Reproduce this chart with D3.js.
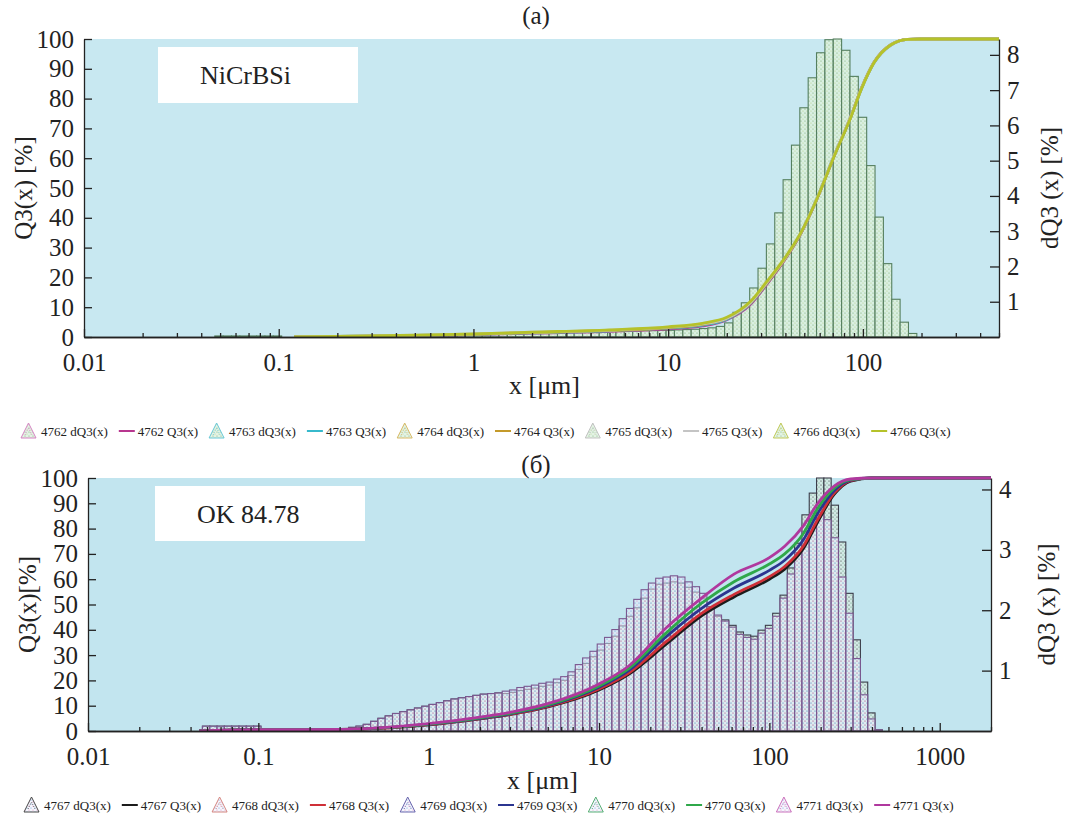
<!DOCTYPE html>
<html>
<head>
<meta charset="utf-8">
<script src="https://cdn.jsdelivr.net/npm/d3@7/dist/d3.min.js"></script>
<style>
  body { margin: 0; background: #fff; }
  svg text { font-family: "Liberation Serif", "Times New Roman", serif; fill: #222; }
</style>
</head>
<body>
<svg id="chart" width="1066" height="818"></svg>
<script>
// analyser size classes: geometric grid anchored at 63.8 um
const binsPerDecade = 23.3;
const refEdge = 63.8;

// (a) NiCrBSi, dQ3 per class, first class index -73
const dq3AStart = -73;
const dq3A = [
  0.03, 0.03, 0.03, 0.03, 0.03, 0.03, 0.03, 0.03,
  0, 0, 0, 0, 0, 0, 0, 0, 0, 0, 0,
  0.02, 0.02, 0.03, 0.03, 0.04, 0.04, 0.05, 0.05, 0.06, 0.06, 0.07, 0.07,
  0.08, 0.08, 0.09, 0.09, 0.10, 0.10, 0.11, 0.11, 0.12, 0.12, 0.13, 0.13, 0.14, 0.14, 0.15,
  0.15, 0.16, 0.16, 0.17, 0.17, 0.18, 0.18, 0.19, 0.19, 0.20, 0.21, 0.22, 0.24, 0.26,
  0.30, 0.40, 0.70, 0.97, 1.39, 1.95, 2.64, 3.52, 4.46, 5.44, 6.50, 7.35, 8.06,
  8.43, 8.45, 8.13, 7.39, 6.23, 4.86, 3.40, 2.08, 1.07, 0.42, 0.10
];

// (a) cumulative Q3 curves
const q3AX = [0.12, 0.2, 0.5, 1, 2, 5, 10, 15, 20, 26.5, 32, 39, 48, 58.6, 71, 87, 98, 114, 139, 170, 200, 500];
const q3A4762 = [0, 0.1, 0.4, 0.8, 1.3, 1.9, 2.7, 3.7, 5.8, 11.0, 17.6, 25.2, 34.7, 46.9, 60.6, 74.2, 83.2, 92.1, 98.0, 99.9, 100, 100];
const q3A4763 = [0, 0.2, 0.5, 0.9, 1.4, 2.1, 3.0, 4.0, 6.0, 11.3, 17.9, 25.5, 34.9, 47.1, 60.7, 74.1, 83.1, 92.0, 98.0, 99.9, 100, 100];
const q3A4764 = [0, 0.2, 0.5, 0.9, 1.5, 2.2, 3.1, 4.2, 6.2, 11.5, 18.0, 25.4, 34.8, 47.0, 60.6, 74.2, 83.3, 92.2, 98.1, 99.9, 100, 100];
const q3A4765 = [0, 0.2, 0.6, 1.0, 1.6, 2.3, 3.3, 4.4, 6.3, 11.6, 18.2, 25.6, 35.0, 47.2, 60.8, 74.3, 83.2, 92.1, 98.0, 99.9, 100, 100];
const q3A4766 = [0, 0.2, 0.6, 1.0, 1.6, 2.4, 3.4, 4.6, 6.6, 12.0, 18.5, 25.8, 35.0, 47.0, 60.5, 74.0, 83.0, 92.0, 98.0, 99.9, 100, 100];

// (б) OK 84.78, dQ3 per class, first class index -73
const dq3BStart = -73;
const dq3B4767 = [
  0.08, 0.08, 0.08, 0.08, 0.08, 0.08, 0.08, 0.08,
  0, 0, 0, 0, 0, 0, 0, 0, 0, 0,
  0.02, 0.04, 0.06, 0.08, 0.11, 0.16, 0.21, 0.25, 0.29, 0.32, 0.35, 0.38, 0.41, 0.44, 0.47, 0.50,
  0.53, 0.55, 0.57, 0.59, 0.61, 0.62, 0.63,
  0.62, 0.64, 0.67, 0.69, 0.71, 0.74, 0.76, 0.80, 0.84, 0.92, 1.02, 1.12, 1.23, 1.34, 1.45,
  1.57, 1.74, 1.90, 2.04, 2.20, 2.35, 2.43, 2.45, 2.47, 2.45, 2.38, 2.30, 2.20, 2.02, 1.90,
  1.84, 1.75, 1.64, 1.59, 1.57, 1.67, 1.75, 1.95, 2.25, 2.70, 3.11, 3.58, 3.94, 4.19, 4.19,
  3.74, 3.13, 2.28, 1.51, 0.81, 0.30, 0.02
];
const dq3B4771 = [
  0.08, 0.08, 0.08, 0.08, 0.08, 0.08, 0.08, 0.08,
  0, 0, 0, 0, 0, 0, 0, 0, 0, 0,
  0.02, 0.04, 0.06, 0.08, 0.11, 0.16, 0.21, 0.25, 0.29, 0.32, 0.35, 0.38, 0.41, 0.44, 0.47, 0.50,
  0.53, 0.55, 0.57, 0.59, 0.61, 0.62, 0.63,
  0.66, 0.68, 0.72, 0.74, 0.76, 0.79, 0.81, 0.86, 0.90, 0.98, 1.10, 1.21, 1.32, 1.44, 1.55,
  1.68, 1.86, 2.03, 2.18, 2.34, 2.45, 2.53, 2.55, 2.57, 2.55, 2.47, 2.39, 2.28, 2.06, 1.92,
  1.82, 1.72, 1.60, 1.55, 1.52, 1.62, 1.70, 1.90, 2.20, 2.60, 2.95, 3.30, 3.50, 3.58, 3.50,
  3.20, 2.55, 1.95, 1.20, 0.60, 0.20, 0.02
];

// (б) cumulative Q3 curves
const q3BX = [0.045, 0.1, 0.3, 0.5, 1, 2, 3, 5, 10, 15, 25, 40, 62, 100, 123, 158, 190, 240, 300, 400, 2000];
const q3B4767 = [0, 0.5, 0.6, 1.0, 2.4, 4.8, 6.5, 9.5, 16.2, 22.5, 34.5, 45.5, 53.0, 60.0, 64.0, 72.0, 82.0, 93.5, 98.8, 100, 100];
const q3B4768 = [0, 0.5, 0.6, 1.0, 2.5, 4.9, 6.6, 9.7, 16.6, 23.0, 35.5, 46.5, 54.0, 61.0, 65.0, 73.0, 83.0, 94.0, 99.0, 100, 100];
const q3B4769 = [0, 0.5, 0.6, 1.1, 2.6, 5.0, 6.8, 10.0, 17.3, 24.0, 37.5, 48.5, 56.5, 63.5, 67.5, 75.5, 85.5, 95.0, 99.2, 100, 100];
const q3B4770 = [0, 0.5, 0.6, 1.1, 2.7, 5.2, 7.0, 10.3, 17.8, 24.8, 39.0, 50.5, 59.0, 66.0, 70.0, 78.0, 87.5, 96.0, 99.4, 100, 100];
const q3B4771 = [0, 0.5, 0.6, 1.2, 2.9, 5.5, 7.4, 10.8, 18.6, 25.8, 41.0, 52.5, 62.0, 68.5, 73.0, 81.0, 89.5, 96.8, 99.6, 100, 100];

// axes
const xTicksA = [0.01, 0.1, 1, 10, 100];
const xTickLabelsA = ['0.01', '0.1', '1', '10', '100'];
const xTicksB = [0.01, 0.1, 1, 10, 100, 1000];
const xTickLabelsB = ['0.01', '0.1', '1', '10', '100', '1000'];
const q3Ticks = [0, 10, 20, 30, 40, 50, 60, 70, 80, 90, 100];
const dq3TicksA = [1, 2, 3, 4, 5, 6, 7, 8];
const dq3TicksB = [1, 2, 3, 4];

const legendA = [
  { name: '4762', tri: '#d277bd', line: '#b8368f' },
  { name: '4763', tri: '#58c3d3', line: '#37b9cc' },
  { name: '4764', tri: '#d6b458', line: '#c49a2a' },
  { name: '4765', tri: '#bdbdbd', line: '#c4c4c4' },
  { name: '4766', tri: '#bcc548', line: '#b5c22a' }
];
const legendB = [
  { name: '4767', tri: '#333333', line: '#1c1c1c' },
  { name: '4768', tri: '#d27a74', line: '#cf3038' },
  { name: '4769', tri: '#5a56a6', line: '#2b3590' },
  { name: '4770', tri: '#48a868', line: '#2fa84a' },
  { name: '4771', tri: '#c862b6', line: '#b0389e' }
];

const svg = d3.select('#chart');
const defs = svg.append('defs');

function edge(k) { return refEdge * Math.pow(10, k / binsPerDecade); }

function dotPattern(id, base, dots) {
  const p = defs.append('pattern').attr('id', id).
    attr('width', 4).attr('height', 4).attr('patternUnits', 'userSpaceOnUse');
  p.append('rect').attr('width', 4).attr('height', 4).attr('fill', base);
  dots.forEach(function(d) {
    p.append('circle').attr('cx', d[0]).attr('cy', d[1]).attr('r', 0.6).attr('fill', d[2]);
  });
}
dotPattern('fillA', 'rgba(220,240,222,0.85)', [[1, 1, '#78ad6e'], [3, 3, '#b4d28a']]);
dotPattern('fillB1', 'rgba(214,234,226,0.8)', [[1, 1, '#333333'], [3, 3, '#5f9a78']]);
dotPattern('fillB2', 'rgba(232,240,250,0.5)', [[1, 1, '#e07cc4'], [3, 3, '#6f8ee0']]);

function drawPanel(p) {
  const x = d3.scaleLog().domain(p.xDomain).range([p.left, p.right]);
  const y = d3.scaleLinear().domain([0, 100]).range([p.bottom, p.top]);
  const y2 = d3.scaleLinear().domain([0, p.y2Max]).range([p.bottom, p.top]);

  const g = svg.append('g');
  const clipId = 'clip' + p.id;
  defs.append('clipPath').attr('id', clipId).append('rect').
    attr('x', p.left).attr('y', p.top - 2).attr('width', p.right - p.left).attr('height', p.bottom - p.top + 2);

  g.append('rect').attr('x', p.left).attr('y', p.top).
    attr('width', p.right - p.left).attr('height', p.bottom - p.top).attr('fill', p.bg);

  const plot = g.append('g').attr('clip-path', 'url(#' + clipId + ')');

  // histograms
  p.hists.forEach(function(h) {
    const bars = h.values.map(function(v, i) { return { k: h.start + i, v: v }; }).filter(function(d) { return d.v > 0; });
    plot.append('g').selectAll('rect').data(bars).join('rect').
      attr('x', function(d) { return x(edge(d.k)); }).
      attr('width', function(d) { return x(edge(d.k + 1)) - x(edge(d.k)); }).
      attr('y', function(d) { return y2(d.v); }).
      attr('height', function(d) { return y2(0) - y2(d.v); }).
      attr('fill', h.fill).attr('stroke', h.stroke).attr('stroke-width', 1.1);
  });

  // cumulative curves
  const line = d3.line().x(function(d) { return x(d[0]); }).y(function(d) { return y(d[1]); }).curve(d3.curveMonotoneX);
  p.curves.forEach(function(c) {
    plot.append('path').datum(p.curveX.map(function(v, i) { return [v, c.values[i]]; })).
      attr('d', line).attr('fill', 'none').attr('stroke', c.color).attr('stroke-width', 2.8).
      attr('stroke-linejoin', 'round');
  });

  // axes
  const minor = x.ticks().filter(function(t) { return p.xTicks.indexOf(t) < 0; });
  g.append('g').attr('transform', 'translate(0,' + p.bottom + ')').
    call(d3.axisBottom(x).tickValues(minor).tickSize(-4).tickSizeOuter(0).tickFormat(''));
  g.append('g').attr('transform', 'translate(0,' + p.bottom + ')').
    call(d3.axisBottom(x).tickValues(p.xTicks).tickSize(-8).tickSizeOuter(0).tickPadding(16).
      tickFormat(function(d, i) { return p.xLabels[i]; }));
  g.append('g').attr('transform', 'translate(' + p.left + ',0)').
    call(d3.axisLeft(y).tickValues(q3Ticks).tickSize(-8).tickSizeOuter(0).tickPadding(10));
  g.append('g').attr('transform', 'translate(' + p.right + ',0)').
    call(d3.axisRight(y2).tickValues(p.y2Ticks).tickSize(-9).tickSizeOuter(0).tickPadding(8).tickFormat(d3.format('d')));

  g.selectAll('.tick text').attr('font-size', 25).attr('fill', '#222');
  g.selectAll('.domain, .tick line').attr('stroke', '#222').attr('stroke-width', 1.3);

  // titles
  g.append('text').attr('x', 536).attr('y', p.titleY).attr('dy', '0.32em').
    attr('text-anchor', 'middle').attr('font-size', 25).text(p.title);
  g.append('text').attr('x', (p.left + p.right) / 2 + 3).attr('y', p.xTitleY).attr('dy', '0.32em').
    attr('text-anchor', 'middle').attr('font-size', 26).text('x [\u03bcm]');
  g.append('text').attr('transform', 'translate(' + p.yTitleX + ',' + (p.top + p.bottom) / 2 + ') rotate(-90)').
    attr('dy', '0.32em').attr('text-anchor', 'middle').attr('font-size', 25).text(p.yTitle);
  g.append('text').attr('transform', 'translate(' + p.y2TitleX + ',' + (p.top + p.bottom) / 2 + ') rotate(-90)').
    attr('dy', '0.32em').attr('text-anchor', 'middle').attr('font-size', 25).text('dQ3 (x) [%]');

  // sample label
  g.append('rect').attr('x', p.box[0]).attr('y', p.box[1]).attr('width', p.box[2]).attr('height', p.box[3]).attr('fill', '#fff');
  g.append('text').attr('x', p.box[0] + 42).attr('y', p.box[1] + p.box[3] / 2).attr('dy', '0.35em').
    attr('font-size', 26).text(p.label);

  // legend
  const lg = svg.append('g').attr('transform', 'translate(0,' + p.legendY + ')');
  let cx = p.legendX;
  p.legend.forEach(function(item) {
    lg.append('path').attr('d', 'M' + cx + ',7L' + (cx + 7.5) + ',-8L' + (cx + 15) + ',7Z').
      attr('fill', 'url(#' + p.legendFill + ')').attr('stroke', item.tri).attr('stroke-width', 1).attr('opacity', 0.9);
    lg.append('path').attr('d', 'M' + (cx + 4) + ',4L' + (cx + 7.5) + ',-3L' + (cx + 11) + ',4').
      attr('fill', 'none').attr('stroke', item.tri).attr('stroke-width', 0.8).attr('stroke-dasharray', '1,1.5');
    cx += 20;
    const t1 = lg.append('text').attr('x', cx).attr('dy', '0.35em').attr('font-size', 13).attr('fill', '#333').text(item.name + ' dQ3(x)');
    cx += t1.node().getComputedTextLength() + 11;
    lg.append('line').attr('x1', cx).attr('x2', cx + 16).attr('stroke', item.line).attr('stroke-width', 2);
    cx += 19;
    const t2 = lg.append('text').attr('x', cx).attr('dy', '0.35em').attr('font-size', 13).attr('fill', '#333').text(item.name + ' Q3(x)');
    cx += t2.node().getComputedTextLength() + 11;
  });
}

drawPanel({
  id: 'A', left: 84, right: 999, top: 39, bottom: 337,
  xDomain: [0.01, 500], y2Max: 8.45, bg: '#c8e8f1',
  xTicks: xTicksA, xLabels: xTickLabelsA, y2Ticks: dq3TicksA,
  hists: [{ start: dq3AStart, values: dq3A, fill: 'url(#fillA)', stroke: '#557f5f' }],
  curveX: q3AX,
  curves: [
    { values: q3A4762, color: legendA[0].line },
    { values: q3A4763, color: legendA[1].line },
    { values: q3A4764, color: legendA[2].line },
    { values: q3A4765, color: legendA[3].line },
    { values: q3A4766, color: legendA[4].line }
  ],
  title: '(a)', titleY: 16, yTitle: 'Q3(x) [%]', xTitleY: 386, yTitleX: 24, y2TitleX: 1050,
  box: [158, 47, 200, 56], label: 'NiCrBSi',
  legend: legendA, legendX: 21, legendY: 431, legendFill: 'fillA'
});

drawPanel({
  id: 'B', left: 88, right: 991, top: 478, bottom: 731,
  xDomain: [0.01, 2000], y2Max: 4.19, bg: '#c2e5ef',
  xTicks: xTicksB, xLabels: xTickLabelsB, y2Ticks: dq3TicksB,
  hists: [
    { start: dq3BStart, values: dq3B4767, fill: 'url(#fillB1)', stroke: '#3b3d4a' },
    { start: dq3BStart, values: dq3B4771, fill: 'url(#fillB2)', stroke: '#7a5890' }
  ],
  curveX: q3BX,
  curves: [
    { values: q3B4767, color: legendB[0].line },
    { values: q3B4768, color: legendB[1].line },
    { values: q3B4769, color: legendB[2].line },
    { values: q3B4770, color: legendB[3].line },
    { values: q3B4771, color: legendB[4].line }
  ],
  title: '(\u0431)', titleY: 465, yTitle: 'Q3(x)[%]', xTitleY: 781, yTitleX: 28, y2TitleX: 1047,
  box: [155, 486, 210, 55], label: 'OK 84.78',
  legend: legendB, legendX: 24, legendY: 805, legendFill: 'fillB2'
});
</script>
</body>
</html>
